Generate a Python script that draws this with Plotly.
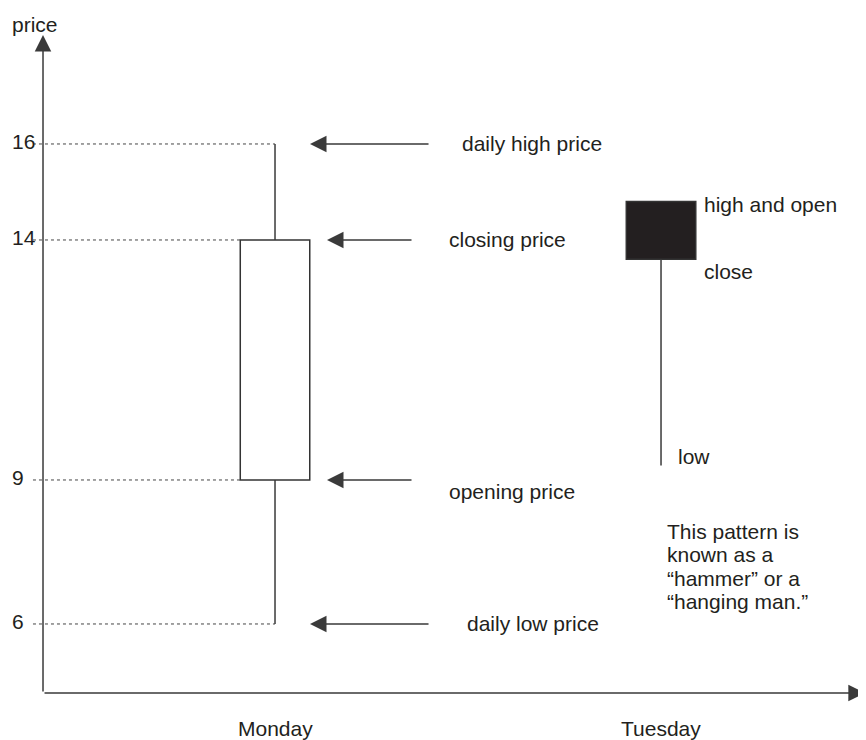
import plotly.graph_objects as go

# Candlestick sketch data
days = ["Monday", "Tuesday"]
opens = [9, 14.8]
highs = [16, 14.8]
lows = [6, 9.3]
closes = [14, 13.6]

price_ticks = [16, 14, 9, 6]
monday_labels = ["daily high price", "closing price", "opening price", "daily low price"]
tuesday_labels = ["high and open", "close", "low"]
note_lines = ["This pattern is", "known as a", "“hammer” or a", "“hanging man.”"]

FONT = "Liberation Sans, Arial, Helvetica, sans-serif"
TXT = "#231f20"
LINE = "#3a3a3a"
FS = 21
BODY_W = 0.18

xs = list(range(len(days)))
# the page body has an 8px margin, so the figure is drawn 8px smaller
W, H = 858, 732
x_range = [-0.6917, 1.531]
y_range = [3.583, 18.833]
axis_x = -0.601   # where the y axis line sits
axis_y = 4.5625   # where the x axis line sits

fig = go.Figure()

# wicks: high -> top of body, bottom of body -> low
wx, wy = [], []
for x, o, h, l, c in zip(xs, opens, highs, lows, closes):
    wx += [x, x, None, x, x, None]
    wy += [h, max(o, c), None, min(o, c), l, None]
fig.add_trace(go.Scatter(x=wx, y=wy, mode="lines",
                         line=dict(color=LINE, width=1.5), hoverinfo="skip"))

# bodies
fig.add_trace(go.Bar(
    x=xs,
    base=[min(o, c) for o, c in zip(opens, closes)],
    y=[abs(c - o) for o, c in zip(opens, closes)],
    width=BODY_W,
    marker=dict(color=["white" if c > o else TXT for o, c in zip(opens, closes)],
                line=dict(color="#333333", width=1.5)),
    hoverinfo="skip"))

# dotted guides from the price labels to Monday's candle
m_levels = [highs[0], closes[0], opens[0], lows[0]]
gx, gy = [], []
for lv in m_levels:
    end = xs[0] if lv in (highs[0], lows[0]) else xs[0] - BODY_W / 2
    gx += [-0.627, end, None]
    gy += [lv, lv, None]
fig.add_trace(go.Scatter(x=gx, y=gy, mode="lines",
                         line=dict(color="#444444", width=1, dash="dot"), hoverinfo="skip"))

ann = []
arrow = dict(showarrow=True, arrowhead=2, arrowsize=2.2, arrowwidth=1.5,
             arrowcolor=LINE, axref="x", ayref="y", text="", standoff=0, startstandoff=0)

# axes drawn as arrows
ann.append(dict(arrow, x=1.528, y=axis_y, ax=axis_x, ay=axis_y))
ann.append(dict(arrow, x=axis_x, y=18.27, ax=axis_x, ay=axis_y))

# pointer arrows and their labels on Monday
tips = [0.0907, 0.1347, 0.1347, 0.0907]
tails = [0.4016, 0.3575, 0.3575, 0.4016]
lefts = [0.479, 0.4456, 0.4456, 0.492]
shifts = [0, 0, -12, 0]
for lv, tp, tl, lx, lab, sh in zip(m_levels, tips, tails, lefts, monday_labels, shifts):
    ann.append(dict(arrow, x=xs[0] + tp, y=lv, ax=xs[0] + tl, ay=lv))
    ann.append(dict(x=xs[0] + lx, y=lv, text=lab, showarrow=False, xanchor="left",
                    yanchor="middle", yshift=sh, font=dict(family=FONT, size=FS, color=TXT)))

# Tuesday labels
t_pos = [(0.106, highs[1], -3), (0.106, closes[1], -12), (0.039, lows[1], 9)]
for (dx, lv, sh), lab in zip(t_pos, tuesday_labels):
    ann.append(dict(x=xs[1] + dx, y=lv, text=lab, showarrow=False, xanchor="left",
                    yanchor="middle", yshift=sh, font=dict(family=FONT, size=FS, color=TXT)))

for i, line in enumerate(note_lines):
    ann.append(dict(x=xs[1] + 0.0104, y=7.2, text=line, showarrow=False, xanchor="left",
                    yanchor="middle", yshift=35 - 23.5 * i,
                    font=dict(family=FONT, size=FS, color=TXT)))

# price tick labels
for lv in price_ticks:
    ann.append(dict(x=-0.686, y=lv, text=str(lv), showarrow=False, xanchor="left",
                    yanchor="middle", yshift=2, font=dict(family=FONT, size=FS, color=TXT)))

# day labels
for x, d in zip(xs, days):
    ann.append(dict(x=x, y=3.833, text=d, showarrow=False, xanchor="center",
                    yanchor="middle", font=dict(family=FONT, size=FS, color=TXT)))

ann.append(dict(x=2 / W, y=1 - 16 / H, xref="paper", yref="paper", text="price",
                showarrow=False, xanchor="left", yanchor="middle",
                font=dict(family=FONT, size=FS, color=TXT)))

fig.update_layout(
    width=W, height=H,
    margin=dict(l=0, r=0, t=0, b=0),
    paper_bgcolor="white", plot_bgcolor="white",
    showlegend=False,
    xaxis=dict(range=x_range, visible=False, fixedrange=True),
    yaxis=dict(range=y_range, visible=False, fixedrange=True),
    annotations=ann,
)

fig.write_html("out.html")
